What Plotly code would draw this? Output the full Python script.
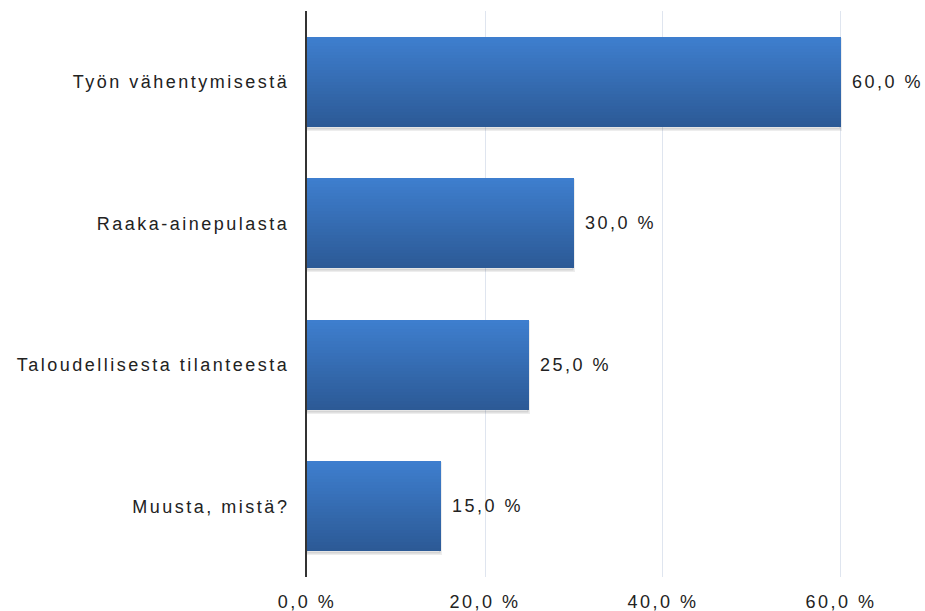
import plotly.graph_objects as go

categories = ["Työn vähentymisestä", "Raaka-ainepulasta", "Taloudellisesta tilanteesta", "Muusta, mistä?"]
values = [60.0, 30.0, 25.0, 15.0]
tick_values = [0, 20, 40, 60]
tick_labels = ["0,0 %", "20,0 %", "40,0 %", "60,0 %"]

FONT = "Liberation Sans, Arial, sans-serif"
TEXT_COLOR = "#222222"
FONT_SIZE = 18
BAR_W = 0.636
N_SLICES = 30
TOP = (62, 126, 206)
BOTTOM = (44, 90, 150)


def lerp(a, b, t):
    return tuple(round(a[i] + (b[i] - a[i]) * t) for i in range(3))


fig = go.Figure()

# soft shadow below/right of bars
fig.add_trace(go.Bar(
    y=categories, x=values, orientation="h", width=BAR_W, offset=-BAR_W / 2 + 0.02,
    marker=dict(color="rgba(0,0,0,0.10)", line=dict(color="rgba(0,0,0,0.07)", width=3)),
    hoverinfo="skip", showlegend=False,
))

# vertical gradient built from stacked overlapping slices
step = BAR_W / N_SLICES
for k in range(N_SLICES):
    c = lerp(TOP, BOTTOM, k / (N_SLICES - 1))
    fig.add_trace(go.Bar(
        y=categories, x=values, orientation="h",
        offset=-BAR_W / 2 + k * step, width=BAR_W - k * step,
        marker=dict(color=f"rgb{c}", line=dict(width=0)),
        hoverinfo="skip" if k else "x+y", showlegend=False,
    ))

for cat, v in zip(categories, values):
    fig.add_annotation(
        x=v, y=cat, xref="x", yref="y", text=f"{v:.1f}".replace(".", ",") + " %",
        showarrow=False, xanchor="left", align="left", width=76, xshift=9,
        font=dict(family=FONT, size=FONT_SIZE, color=TEXT_COLOR),
    )

fig.update_layout(
    width=925, height=611,
    margin=dict(l=307, r=0, t=11, b=34),
    plot_bgcolor="white", paper_bgcolor="white",
    barmode="overlay", bargap=0,
    font=dict(family=FONT, size=FONT_SIZE, color=TEXT_COLOR),
    showlegend=False,
    xaxis=dict(
        range=[0, 69.44], tickvals=tick_values, ticktext=tick_labels,
        showgrid=True, gridcolor="#dfe5ef", gridwidth=1,
        zeroline=False, showline=False, ticks="", ticklabelstandoff=12,
        fixedrange=True, automargin=False,
    ),
    yaxis=dict(
        autorange="reversed", showgrid=False, zeroline=False,
        showline=True, linecolor="#333333", linewidth=2, ticks="",
        ticklabelstandoff=12, fixedrange=True, automargin=False,
    ),
)

post = """
document.body.style.margin = '0';
document.body.style.overflow = 'hidden';
document.querySelectorAll('.main-svg text').forEach(function(t){ t.style.letterSpacing='2.5px'; });
"""
fig.write_html("out.html", post_script=post, config={"displayModeBar": False})
